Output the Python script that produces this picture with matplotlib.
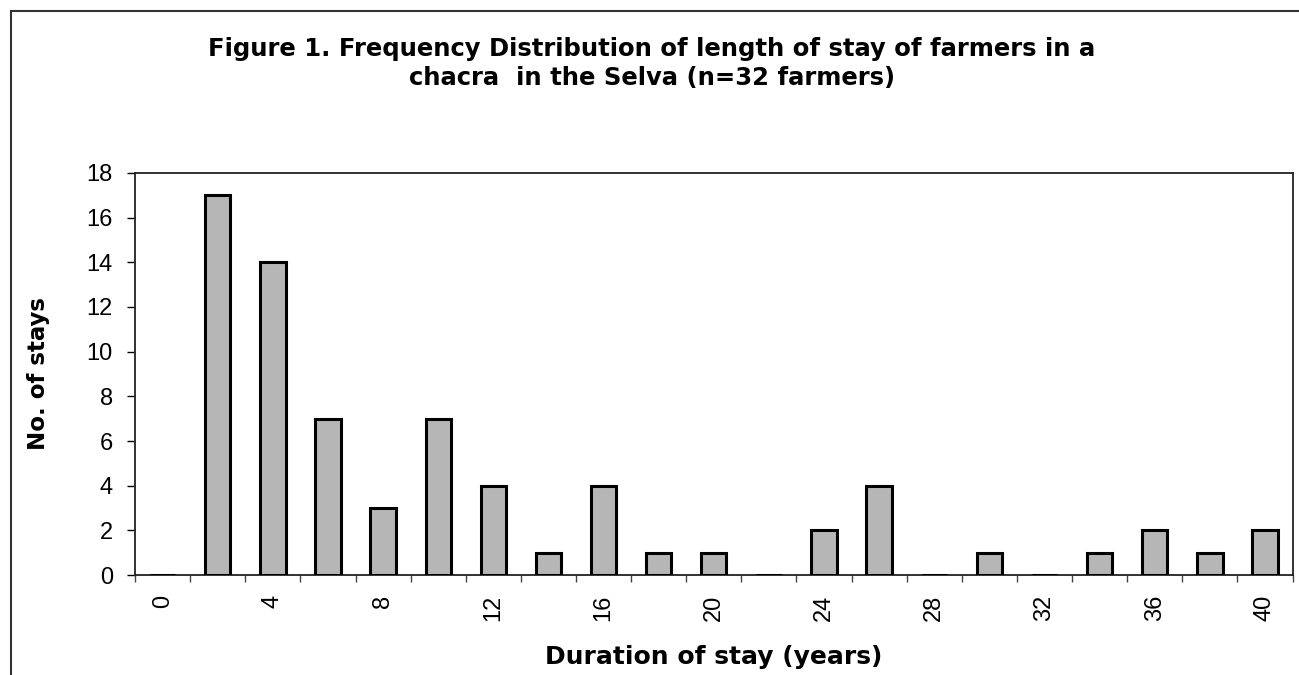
import matplotlib.pyplot as plt
from matplotlib.lines import Line2D
import numpy as np

# duration categories (years) and number of stays
durations = list(range(0, 42, 2))
stays = [0, 17, 14, 7, 3, 7, 4, 1, 4, 1, 1, 0, 2, 4, 0, 1, 0, 1, 2, 1, 2]
yticks = list(range(0, 20, 2))

title = ("Figure 1. Frequency Distribution of length of stay of farmers in a\n"
         "chacra  in the Selva (n=32 farmers)")

plt.rcParams['font.family'] = ['Liberation Sans', 'DejaVu Sans']
bold_font = ['DejaVu Sans']

fig = plt.figure(figsize=(12.99, 6.75), dpi=100)
ax = fig.add_axes([0.104, 0.148, 0.891, 0.596])

x = np.arange(len(durations))
ax.bar(x, stays, width=0.46, color='#b6b6b6', edgecolor='black', linewidth=2.2, zorder=3)

ax.set_xlim(-0.5, len(durations) - 0.5)
ax.set_ylim(0, 18)

# category ticks sit between categories, labels every other category
ax.set_xticks(np.arange(-0.5, len(durations), 1.0), minor=False)
ax.set_xticklabels([])
ax.set_xticks(x[::2], minor=True)
ax.set_xticklabels([str(d) for d in durations[::2]], minor=True, rotation=90, fontsize=17)
ax.tick_params(axis='x', which='major', direction='out', length=5, width=1, color='#444444')
ax.tick_params(axis='x', which='minor', length=0, pad=14)

ax.set_yticks(yticks)
ax.set_yticklabels([str(v) for v in yticks], fontsize=17)
ax.tick_params(axis='y', direction='out', length=6, width=1, pad=10)

for s in ax.spines.values():
    s.set_linewidth(1.3)
    s.set_color('#222222')

ax.set_ylabel('No. of stays', fontsize=16.5, fontweight='bold', family=bold_font, labelpad=26)
ax.set_xlabel('Duration of stay (years)', fontsize=18, fontweight='bold', family=bold_font,
              labelpad=17)

fig.text(0.502, 0.906, title, ha='center', va='center', fontsize=17.5,
         fontweight='bold', family=bold_font, linespacing=1.25)

# outer chart border (only left and top visible in the scan)
fig.add_artist(Line2D([11 / 1299, 11 / 1299], [0, 1 - 11 / 675], transform=fig.transFigure,
                      color='#333333', linewidth=1.5))
fig.add_artist(Line2D([11 / 1299, 1], [1 - 11 / 675, 1 - 11 / 675], transform=fig.transFigure,
                      color='#333333', linewidth=1.5))

fig.savefig('out.png', dpi=100)
